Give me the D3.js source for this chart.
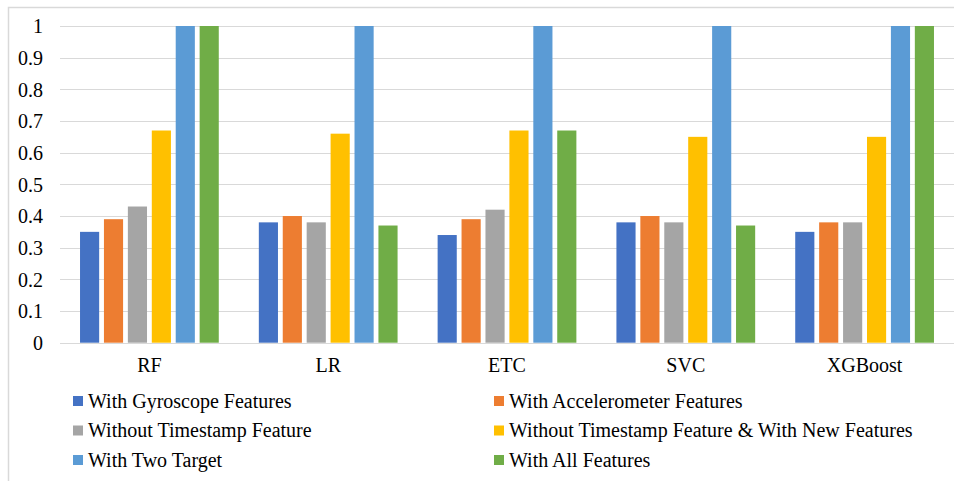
<!DOCTYPE html>
<html>
<head>
<meta charset="utf-8">
<script src="https://cdn.jsdelivr.net/npm/d3@7"></script>
<style>
  html, body { margin: 0; padding: 0; background: #fff; }
  svg { display: block; }
</style>
</head>
<body>
<svg id="chart" width="954" height="481"></svg>
<script>
// Model names on the x axis
const models = ["RF", "LR", "ETC", "SVC", "XGBoost"];

// Feature-set variants (one bar per model each)
const seriesNames = [
  "With Gyroscope Features",
  "With Accelerometer Features",
  "Without Timestamp Feature",
  "Without Timestamp Feature & With New Features",
  "With Two Target",
  "With All Features"
];
const seriesColors = ["#4472C4", "#ED7D31", "#A5A5A5", "#FFC000", "#5B9BD5", "#70AD47"];

// Scores per variant, ordered as the models above
const gyroscope      = [0.35, 0.38, 0.34, 0.38, 0.35];
const accelerometer  = [0.39, 0.40, 0.39, 0.40, 0.38];
const noTimestamp    = [0.43, 0.38, 0.42, 0.38, 0.38];
const noTimestampNew = [0.67, 0.66, 0.67, 0.65, 0.65];
const twoTarget      = [1.00, 1.00, 1.00, 1.00, 1.00];
const allFeatures    = [1.00, 0.37, 0.67, 0.37, 1.00];
const seriesValues = [gyroscope, accelerometer, noTimestamp, noTimestampNew, twoTarget, allFeatures];

const yTicks = [0, 0.1, 0.2, 0.3, 0.4, 0.5, 0.6, 0.7, 0.8, 0.9, 1];

const FONT = '"Liberation Serif"';
const FONT_SIZE = "20px";
const svg = d3.select("#chart");

// Outer frame (left and top edges visible)
svg.append("path")
  .attr("d", "M8.5,481 L8.5,7.5 L954,7.5")
  .attr("fill", "none")
  .attr("stroke", "#D9D9D9")
  .attr("stroke-width", 1.5);

const plot = { left: 60, right: 954, top: 26, bottom: 342.7 };

const y = d3.scaleLinear().domain([0, 1]).range([plot.bottom, plot.top]);
const x0 = d3.scaleBand().domain(models).range([plot.left, plot.right]).padding(0);
const groupInset = x0.bandwidth() * 0.112;
const x1 = d3.scaleBand()
  .domain(d3.range(seriesNames.length))
  .range([groupInset, x0.bandwidth() - groupInset])
  .paddingInner(0.2);

// Horizontal gridlines
svg.append("g")
  .selectAll("line")
  .data(yTicks)
  .join("line")
  .attr("x1", plot.left)
  .attr("x2", plot.right)
  .attr("y1", d => Math.round(y(d)) + 0.5)
  .attr("y2", d => Math.round(y(d)) + 0.5)
  .attr("stroke", "#D9D9D9")
  .attr("stroke-width", 1.2);

// Y axis labels
const yAxis = d3.axisLeft(y).tickValues(yTicks).tickSize(0).tickPadding(0)
  .tickFormat(d => d3.format("~g")(d));
svg.append("g")
  .attr("transform", `translate(${plot.left - 17},0)`)
  .call(yAxis)
  .attr("font-family", null)
  .attr("font-size", null)
  .call(g => g.select(".domain").remove())
  .call(g => g.selectAll("text")
    .style("font-family", FONT)
    .style("font-size", FONT_SIZE)
    .attr("fill", "#000")
    .attr("dy", "0.34em"));

// Bars
const groups = svg.append("g")
  .selectAll("g")
  .data(models)
  .join("g")
  .attr("transform", d => `translate(${x0(d)},0)`);

groups.selectAll("rect")
  .data((m, mi) => seriesValues.map((vals, si) => ({ si, v: vals[mi] })))
  .join("rect")
  .attr("x", d => x1(d.si))
  .attr("width", x1.bandwidth())
  .attr("y", d => y(d.v))
  .attr("height", d => y(0) - y(d.v))
  .attr("fill", d => seriesColors[d.si]);

// Category labels
const xAxis = d3.axisBottom(x0).tickSize(0).tickPadding(0);
svg.append("g")
  .attr("transform", `translate(0,${plot.bottom + 15})`)
  .call(xAxis)
  .attr("font-family", null)
  .attr("font-size", null)
  .call(g => g.select(".domain").remove())
  .call(g => g.selectAll("text")
    .style("font-family", FONT)
    .style("font-size", FONT_SIZE)
    .attr("fill", "#000"));

// Legend: two columns, three rows
const legendCols = [73, 494];
const legendRows = [401, 430.5, 460];
const legend = svg.append("g")
  .selectAll("g")
  .data(seriesNames)
  .join("g")
  .attr("transform", (d, i) => `translate(${legendCols[i % 2]},${legendRows[Math.floor(i / 2)]})`);

legend.append("rect")
  .attr("x", 0)
  .attr("y", -5)
  .attr("width", 10)
  .attr("height", 10)
  .attr("fill", (d, i) => seriesColors[i]);

legend.append("text")
  .attr("x", 15)
  .attr("y", 0)
  .attr("dy", "0.34em")
  .style("font-family", FONT)
  .style("font-size", FONT_SIZE)
  .attr("fill", "#000")
  .text(d => d);
</script>
</body>
</html>
